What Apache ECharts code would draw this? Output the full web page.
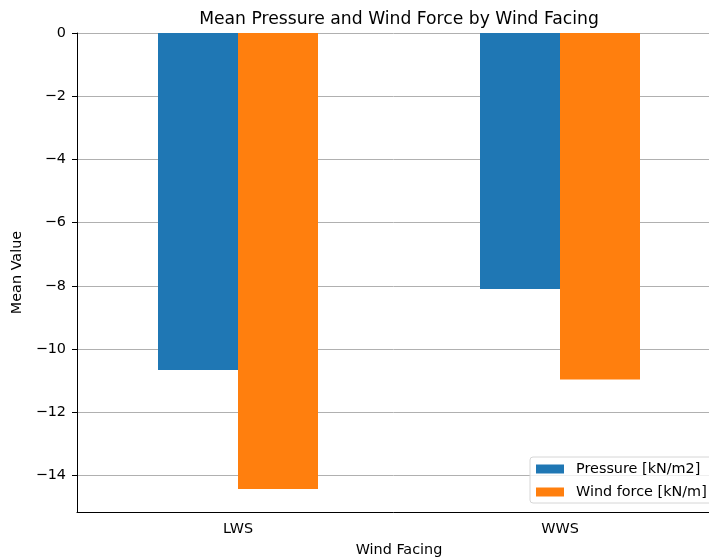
<!DOCTYPE html>
<html>
<head>
<meta charset="utf-8">
<style>
  html, body { margin: 0; padding: 0; background: #fff; }
  #chart { width: 709px; height: 560px; }
</style>
<script src="https://cdn.jsdelivr.net/npm/echarts@6/dist/echarts.min.js"></script>
</head>
<body>
<div id="chart"></div>
<script>
// Mean values per wind-facing side
const categories = ['LWS', 'WWS'];
const pressure = [-10.66, -8.10];      // Pressure [kN/m2]
const windForce = [-14.42, -10.96];    // Wind force [kN/m]
const seriesNames = ['Pressure [kN/m2]', 'Wind force [kN/m]'];
const yTicks = [-14, -12, -10, -8, -6, -4, -2, 0];

const FONT = 'DejaVu Sans';
const LABEL_SIZE = 14.4;
const chart = echarts.init(document.getElementById('chart'), null, { renderer: 'canvas' });

chart.setOption({
  animation: false,
  backgroundColor: '#ffffff',
  title: {
    text: 'Mean Pressure and Wind Force by Wind Facing',
    left: 394,
    textAlign: 'center',
    top: 6,
    textStyle: { fontFamily: FONT, fontSize: 17.2, fontWeight: 'normal', color: '#000' }
  },
  legend: {
    orient: 'vertical',
    left: 530,
    top: 457,
    padding: [5, 10, 4, 6],
    itemWidth: 28,
    itemHeight: 9,
    itemGap: 9,
    backgroundColor: 'rgba(255,255,255,0.8)',
    borderColor: '#d6d6d6',
    borderWidth: 1,
    borderRadius: 3,
    textStyle: { fontFamily: FONT, fontSize: LABEL_SIZE, color: '#000', padding: [0, 0, 0, 7] },
    data: seriesNames.map(n => ({ name: n, icon: 'rect' }))
  },
  grid: { left: 77, top: 33, width: 644, height: 479, containLabel: false, outerBoundsMode: 'none' },
  xAxis: {
    type: 'category',
    data: categories,
    name: 'Wind Facing',
    nameLocation: 'middle',
    nameGap: 31,
    nameTextStyle: { fontFamily: FONT, fontSize: LABEL_SIZE, color: '#000' },
    axisLine: { onZero: false, lineStyle: { color: '#000', width: 1 } },
    axisTick: { alignWithLabel: true, length: 5, lineStyle: { color: '#000' } },
    axisLabel: { fontFamily: FONT, fontSize: LABEL_SIZE, color: '#000', margin: 10 },
    splitLine: { show: false }
  },
  yAxis: {
    type: 'value',
    min: -15.15,
    max: 0,
    name: 'Mean Value',
    nameLocation: 'middle',
    nameGap: 51,
    nameTextStyle: { fontFamily: FONT, fontSize: LABEL_SIZE, color: '#000' },
    axisLine: { show: true, lineStyle: { color: '#000', width: 1 } },
    axisTick: { show: true, length: 5, customValues: yTicks, lineStyle: { color: '#000' } },
    axisLabel: {
      fontFamily: FONT, fontSize: LABEL_SIZE, color: '#000', margin: 11,
      customValues: yTicks,
      formatter: v => (v < 0 ? '\u2212' + Math.abs(v) : String(v))
    },
    splitLine: { show: true, lineStyle: { color: '#b0b0b0', width: 1 } }
  },
  series: [
    {
      name: seriesNames[0], type: 'bar', data: pressure,
      barWidth: 80, barGap: '0%',
      itemStyle: { color: '#1f77b4' }
    },
    {
      name: seriesNames[1], type: 'bar', data: windForce,
      barWidth: 80, barGap: '0%',
      itemStyle: { color: '#ff7f0e' }
    }
  ]
});
</script>
</body>
</html>
